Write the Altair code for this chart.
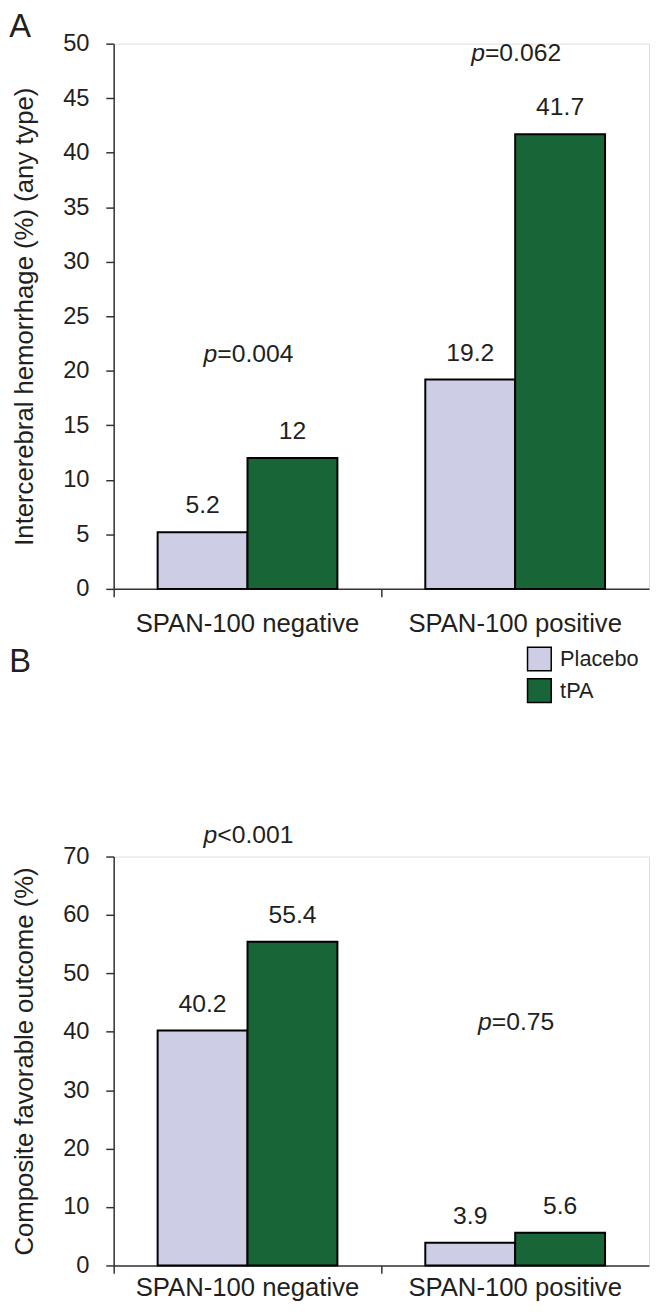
import altair as alt
import pandas as pd

FONT = "Liberation Sans"
AX = "#333333"
TXT = "#231f20"
PLOT_W = 542

categories = ["SPAN-100 negative", "SPAN-100 positive"]
treatments = ["Placebo", "tPA"]
colors = ["#CDCDE6", "#186637"]

# Panel A: intracerebral hemorrhage (%)
ich_placebo = [5.2, 19.2]
ich_tpa = [12.0, 41.7]
ich_placebo_txt = ["5.2", "19.2"]
ich_tpa_txt = ["12", "41.7"]
ich_p_sign = ["=", "="]
ich_p_value = ["0.004", "0.062"]
ich_p_height = [20.8, 48.4]

# Panel B: composite favorable outcome (%)
fav_placebo = [40.2, 3.9]
fav_tpa = [55.4, 5.6]
fav_placebo_txt = ["40.2", "3.9"]
fav_tpa_txt = ["55.4", "5.6"]
fav_p_sign = ["<", "="]
fav_p_value = ["0.001", "0.75"]
fav_p_height = [72.4, 40.3]

CHAR_W = {".": 0.278, "=": 0.584, "<": 0.584, "p": 0.556}


def text_w(s, size):
    return sum(CHAR_W.get(c, 0.556) for c in s) * size


def panel(letter, placebo, tpa, ptxt, ttxt, psign, pval, pheight,
          ymax, ystep, ytitle, legend, height, title_offset, xlab_pad):
    df = pd.DataFrame({
        "category": categories * 2,
        "treatment": [treatments[0]] * 2 + [treatments[1]] * 2,
        "value": placebo + tpa,
        "label": ptxt + ttxt,
    })
    x = alt.X("category:N", sort=categories,
              scale=alt.Scale(paddingInner=0, paddingOuter=0),
              axis=alt.Axis(title=None, labelAngle=0, bandPosition=0, tickSize=8,
                            labelFontSize=26, labelPadding=xlab_pad, labelFont=FONT,
                            domainColor=AX, tickColor=AX, labelColor=TXT,
                            domainWidth=1.5, tickWidth=1.5, labelLimit=400))
    xoff = alt.XOffset("treatment:N", sort=treatments,
                       scale=alt.Scale(paddingInner=0, paddingOuter=0.489))
    y = alt.Y("value:Q", scale=alt.Scale(domain=[0, ymax], nice=False),
              axis=alt.Axis(values=list(range(0, ymax + 1, ystep)), title=ytitle,
                            grid=False, tickSize=8, labelFontSize=24, labelPadding=17,
                            labelFont=FONT, titleFont=FONT, titleFontSize=26,
                            titleFontWeight="normal", titlePadding=25,
                            domainColor=AX, tickColor=AX, labelColor=TXT,
                            titleColor=TXT, domainWidth=1.5, tickWidth=1.5))
    color = alt.Color("treatment:N", sort=treatments,
                      scale=alt.Scale(domain=treatments, range=colors),
                      legend=legend)
    bars = alt.Chart(df).mark_bar(stroke="black", strokeWidth=2, opacity=1).encode(
        x=x, xOffset=xoff, y=y, color=color)
    vals = alt.Chart(df).mark_text(dy=-19, baseline="alphabetic", fontSize=25,
                                   font=FONT, color=TXT).encode(
        x=x, xOffset=xoff, y=y, text="label:N")
    layers = [bars, vals]
    for i, cat in enumerate(categories):
        rest = psign[i] + pval[i]
        wp = text_w("p", 25)
        total = wp + text_w(rest, 25)
        dx = -total / 2 + wp + 1
        pdf = pd.DataFrame({"category": [cat], "value": [pheight[i]],
                            "rest": [rest], "p": ["p"]})
        base = alt.Chart(pdf).encode(x=x, y=y)
        layers.append(base.mark_text(align="right", baseline="alphabetic", dx=dx,
                                     fontSize=25, fontStyle="italic", font=FONT,
                                     color=TXT).encode(text="p:N"))
        layers.append(base.mark_text(align="left", baseline="alphabetic", dx=dx,
                                     fontSize=25, font=FONT,
                                     color=TXT).encode(text="rest:N"))
    return alt.layer(*layers).properties(
        width=PLOT_W, height=height,
        title=alt.TitleParams(letter, anchor="start", frame="bounds", fontSize=33,
                              fontWeight="normal", font=FONT, color=TXT,
                              offset=title_offset, dx=-3),
    )


panel_a = panel("A", ich_placebo, ich_tpa, ich_placebo_txt, ich_tpa_txt,
                ich_p_sign, ich_p_value, ich_p_height, 50, 5,
                "Intercerebral hemorrhage (%) (any type)", None, 552, -12, 14)

legend_b = alt.Legend(orient="none", legendX=418, legendY=-213, title=None,
                      symbolType="square", symbolSize=576, symbolStrokeColor="black",
                      symbolStrokeWidth=1.5, symbolOpacity=1, labelFontSize=22,
                      labelFont=FONT, labelColor=TXT, rowPadding=2, labelOffset=8,
                      padding=0)

panel_b = panel("B", fav_placebo, fav_tpa, fav_placebo_txt, fav_tpa_txt,
                fav_p_sign, fav_p_value, fav_p_height, 70, 10,
                "Composite favorable outcome (%)", legend_b, 414, -33, 1)

chart = alt.vconcat(panel_a, panel_b, spacing=8).resolve_scale(
    color="independent"
).properties(
    padding={"left": 0, "top": -6, "right": 0, "bottom": 0}
).configure_view(strokeWidth=0).configure(font=FONT, background="white")

chart.save("out.html", embed_options={"renderer": "svg", "actions": False})
